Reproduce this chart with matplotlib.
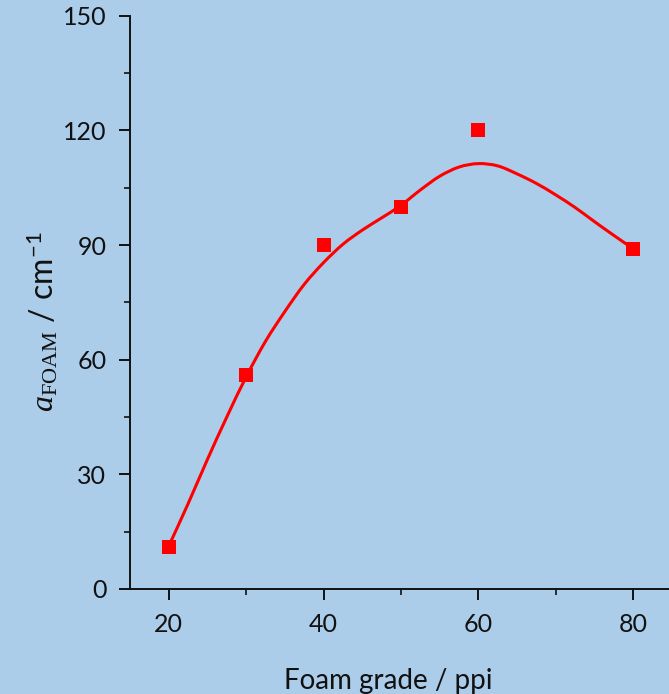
import matplotlib
matplotlib.use("Agg")
import matplotlib.pyplot as plt
from matplotlib.ticker import MultipleLocator
from matplotlib.path import Path
from matplotlib.patches import PathPatch

# Measured data (markers)
foam_grade = [20, 30, 40, 50, 60, 80]
a_foam = [11, 56, 90, 100, 120, 89]

# Smooth trend curve
curve_x = [20, 22.5, 25, 27.5, 30, 32.5, 35, 37.5, 40, 42.5, 45, 47.5, 50,
           52.5, 55, 57.5, 60, 62.5, 65, 67.5, 70, 72.5, 75, 77.5, 80]
curve_y = [11.2, 22.3, 33.9, 45.0, 55.5, 64.8, 72.6, 79.7, 85.4, 90.2, 93.9, 97.1, 100.4,
           104.4, 108.0, 110.4, 111.3, 110.7, 108.6, 106.1, 103.1, 99.8, 96.1, 92.5, 89.0]

x_ticks = [20, 40, 60, 80]
y_ticks = [0, 30, 60, 90, 120, 150]

bg = "#ACCDEA"
plt.rcParams['mathtext.fontset'] = 'custom'
plt.rcParams['mathtext.rm'] = 'Liberation Serif'
plt.rcParams['mathtext.it'] = 'Liberation Serif:italic'
plt.rcParams['mathtext.sf'] = 'Lato'
plt.rcParams['font.family'] = ['Lato', 'DejaVu Sans']

fig = plt.figure(figsize=(6.69, 6.94), dpi=100, facecolor=bg)
ax = fig.add_axes([130/669, 1-589/694, 542/669, (589-15.7)/694])
ax.set_facecolor(bg)

# smooth path through the read curve points (Catmull-Rom -> cubic Bezier)
pts = list(zip(curve_x, curve_y))
verts = [pts[0]]
codes = [Path.MOVETO]
for i in range(len(pts) - 1):
    p0 = pts[i - 1] if i > 0 else pts[i]
    p1 = pts[i]
    p2 = pts[i + 1]
    p3 = pts[i + 2] if i + 2 < len(pts) else pts[i + 1]
    c1 = (p1[0] + (p2[0] - p0[0]) / 6, p1[1] + (p2[1] - p0[1]) / 6)
    c2 = (p2[0] - (p3[0] - p1[0]) / 6, p2[1] - (p3[1] - p1[1]) / 6)
    verts += [c1, c2, p2]
    codes += [Path.CURVE4] * 3
ax.add_patch(PathPatch(Path(verts, codes), facecolor='none', edgecolor='#FF0000',
                       lw=2.2, zorder=2, capstyle='round', joinstyle='round'))

ax.plot(foam_grade, a_foam, linestyle='none', marker='s', markersize=9.5,
        color='#FF0000', markeredgewidth=0, zorder=3)

ax.set_xlim(15, 85)
ax.set_ylim(0, 150)
ax.set_xticks(x_ticks)
ax.set_yticks(y_ticks)
ax.xaxis.set_minor_locator(MultipleLocator(10))
ax.yaxis.set_minor_locator(MultipleLocator(15))

for s in ['top', 'right']:
    ax.spines[s].set_visible(False)
for s in ['left', 'bottom']:
    ax.spines[s].set_linewidth(1.4)
    ax.spines[s].set_color('#111111')

ax.tick_params(which='major', direction='out', length=8, width=1.4, colors='#111111',
               labelsize=18)
ax.tick_params(which='minor', direction='out', length=4.5, width=1.2, colors='#111111')
ax.tick_params(axis='x', which='major', pad=9)
ax.tick_params(axis='y', which='major', pad=9)

ax.set_xlabel("Foam grade / ppi", fontsize=20, color='#111111')
ax.xaxis.set_label_coords(0.477, -0.138)
ax.set_ylabel(r"$\mathit{a}_{\mathrm{FOAM}}$ / cm$^{\mathsf{-1}}$", fontsize=23,
              color='#111111')
ax.yaxis.set_label_coords(-0.13, 0.466)

fig.savefig("out.png", dpi=100, facecolor=bg)
